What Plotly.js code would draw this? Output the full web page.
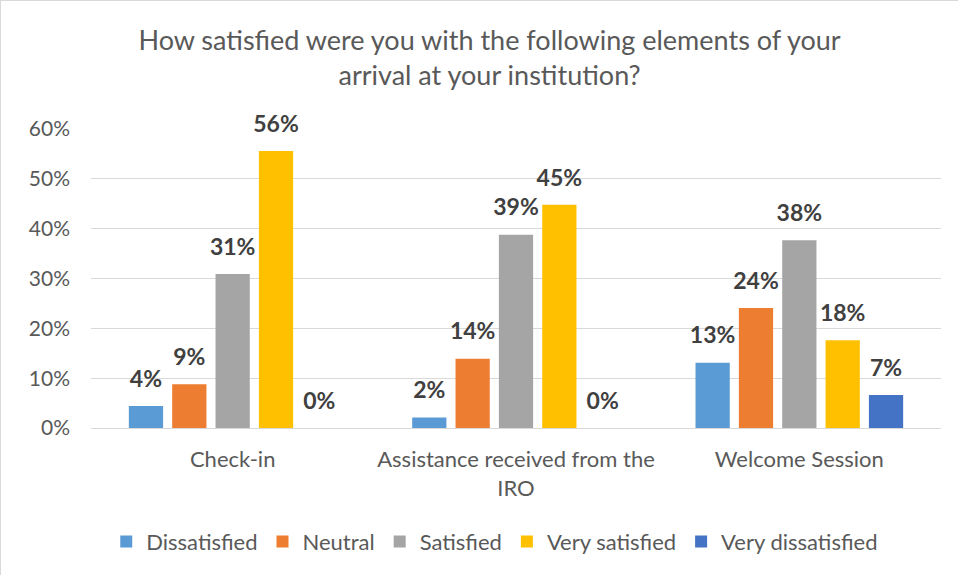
<!DOCTYPE html>
<html><head><meta charset="utf-8">
<script src="https://cdn.plot.ly/plotly-3.0.1.min.js"></script>
<style>
html,body{margin:0;padding:0;background:#fff;}
#chart{width:958px;height:575px;box-sizing:border-box;border:1px solid #d9d9d9;}
</style></head>
<body><div id="chart"></div>
<script>
const categories = ["Check-in", "Assistance received from the<br>IRO", "Welcome Session"];
const seriesNames = ["Dissatisfied", "Neutral", "Satisfied", "Very satisfied", "Very dissatisfied"];
const dissatisfied = [0.044, 0.021, 0.131];
const neutral = [0.088, 0.139, 0.241];
const satisfied = [0.309, 0.388, 0.377];
const verySatisfied = [0.556, 0.448, 0.176];
const veryDissatisfied = [0.0, 0.0, 0.066];
const yTickVals = [0, 0.1, 0.2, 0.3, 0.4, 0.5, 0.6];
const yTickText = ["0%", "10%", "20%", "30%", "40%", "50%", "60%"];

const colors = ["#5b9bd5", "#ed7d31", "#a5a5a5", "#ffc000", "#4472c4"];
const seriesValues = [dissatisfied, neutral, satisfied, verySatisfied, veryDissatisfied];
const font = "Lato, 'Open Sans', sans-serif";
const GAP = 0.235;

const barTraces = seriesValues.map((vals, i) => ({
  type: "bar",
  name: seriesNames[i],
  x: categories,
  y: vals,
  offsetgroup: String(i),
  marker: {color: colors[i]},
  hoverinfo: "none"
}));

const labelTraces = seriesValues.map((vals, i) => ({
  type: "scatter",
  mode: "markers+text",
  x: categories,
  y: vals,
  offsetgroup: String(i),
  marker: {size: 20, opacity: 0, color: colors[i]},
  texttemplate: "%{y:.0%}",
  textposition: "top center",
  textfont: {family: font, size: 23, color: "#404040", weight: "bold"},
  cliponaxis: false,
  showlegend: false,
  hoverinfo: "none"
}));

const layout = {
  width: 958, height: 575,
  margin: {l: 90, r: 18, t: 128, b: 148},
  paper_bgcolor: "#ffffff", plot_bgcolor: "#ffffff",
  font: {family: font, color: "#595959"},
  title: {
    text: "How satisfied were you with the following elements of your<br>arrival at your institution?",
    font: {family: font, size: 27, color: "#595959"},
    x: 0.51, xanchor: "center", y: 0.915, yanchor: "top"
  },
  barmode: "group",
  bargap: GAP,
  bargroupgap: 0.21,
  scattermode: "group",
  scattergap: GAP,
  showlegend: true,
  legend: {
    orientation: "h", x: 0.475, xanchor: "center", y: -0.38, yanchor: "middle",
    font: {family: font, size: 22, color: "#595959"},
    traceorder: "normal", itemwidth: 30
  },
  xaxis: {
    tickfont: {family: font, size: 22, color: "#595959"},
    showgrid: false, showline: false, ticks: "", automargin: false,
    ticklabelstandoff: 16
  },
  yaxis: {
    range: [0, 0.6],
    tickvals: yTickVals, ticktext: yTickText,
    tickfont: {family: font, size: 21, color: "#595959"},
    showgrid: true, gridcolor: "#d9d9d9", gridwidth: 1,
    zeroline: true, zerolinecolor: "#d9d9d9", zerolinewidth: 1,
    showline: false, ticks: "", ticklen: 0, automargin: false,
    ticklabelstandoff: 20
  }
};

Plotly.newPlot("chart", barTraces.concat(labelTraces), layout, {displayModeBar: false, staticPlot: true});
</script></body></html>
